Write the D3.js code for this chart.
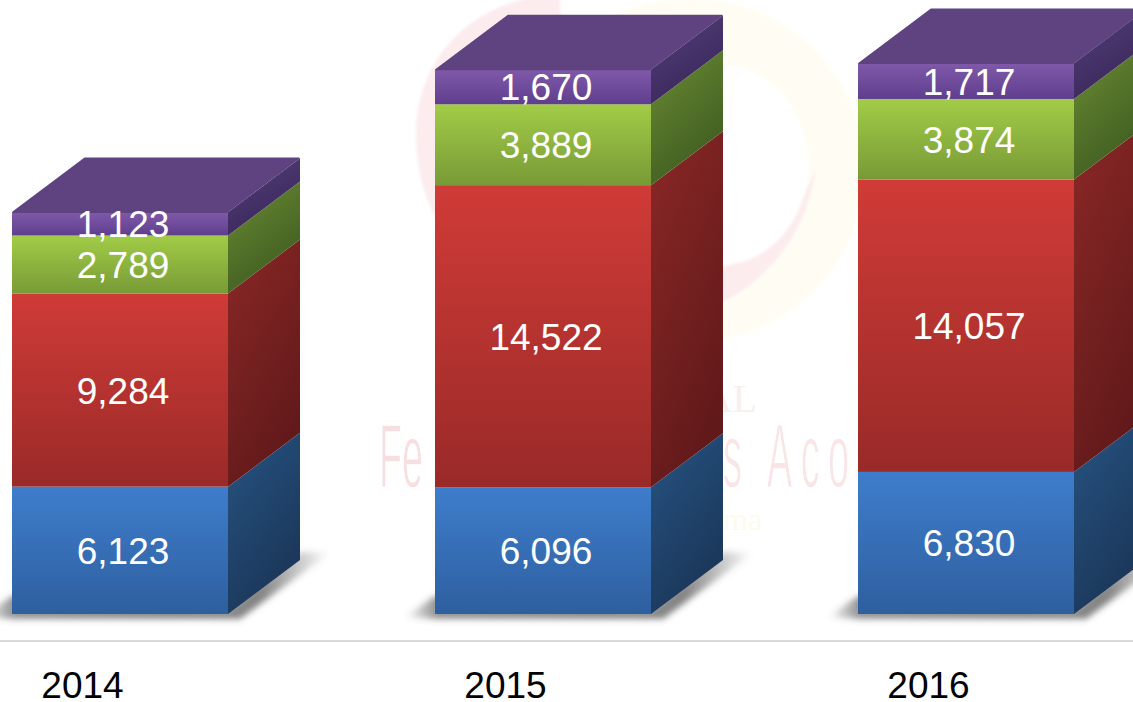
<!DOCTYPE html>
<html><head><meta charset="utf-8">
<script src="https://cdn.jsdelivr.net/npm/d3@7"></script>
<style>html,body{margin:0;padding:0;background:#fff;overflow:hidden}svg{display:block}text{font-family:"Liberation Sans",Arial,sans-serif}</style>
</head><body><svg id="c" width="1133" height="702"></svg>
<script>
const years = ["2014","2015","2016"];
const seriesNames = ["blue","red","green","purple"];
const blueValues = [6123,6096,6830];
const redValues = [9284,14522,14057];
const greenValues = [2789,3889,3874];
const purpleValues = [1123,1670,1717];
const valuesBySeries = {blue:blueValues,red:redValues,green:greenValues,purple:purpleValues};
const frontColors = {blue:["#3e7dcc","#2e5f9f"],red:["#d03b37","#992a28"],green:["#a2cc47","#789a36"],purple:["#8059a9","#5f3e8e"]};
const sideColors = {blue:["#265483","#1b3658"],red:["#8a2826","#62191a"],green:["#6b8c34","#3f5c20"],purple:["#54407a","#39275a"]};
const topColor = "#5f4380";

const W=1133,H=702,DX=72,DY=54;
const svg=d3.select("#c");
const defs=svg.append("defs");
const rows=years.map((y,i)=>{const r={year:y};seriesNames.forEach(s=>r[s]=valuesBySeries[s][i]);return r;});
const stacked=d3.stack().keys(seriesNames)(rows);
const x=d3.scaleBand().domain(years).range([12,1074]).paddingInner(207/423).paddingOuter(0);
const y=d3.scaleLinear().domain([0,30000]).range([614,-10]);

function grad(id,c,x2,y2){
  const g=defs.append("linearGradient").attr("id",id).attr("x1",0).attr("y1",0).attr("x2",x2).attr("y2",y2);
  g.append("stop").attr("offset",0).attr("stop-color",c[0]);
  g.append("stop").attr("offset",1).attr("stop-color",c[1]);
}
seriesNames.forEach(s=>{grad("f-"+s,frontColors[s],0,1);grad("s-"+s,sideColors[s],0.5,1);});
defs.append("filter").attr("id","blur").attr("x","-20%").attr("y","-40%").attr("width","140%").attr("height","180%")
  .append("feGaussianBlur").attr("stdDeviation",3.4);
defs.append("filter").attr("id","soft").append("feGaussianBlur").attr("stdDeviation",1.5);
const sg=defs.append("linearGradient").attr("id","shadow");
[[0,0],[.09,.6],[.8,.68],[1,0]].forEach(d=>sg.append("stop").attr("offset",d[0]).attr("stop-color","#4a4a4a").attr("stop-opacity",d[1]));

// faint watermark behind the chart
const wm=svg.append("g");
wm.append("ellipse").attr("cx",690).attr("cy",170).attr("rx",175).attr("ry",172).attr("fill","#fffdf3").attr("filter","url(#soft)");
wm.append("path").attr("d","M560 -6C470 -2 416 60 416 135C416 240 500 325 640 322C735 320 805 255 816 168C790 235 735 280 650 280C590 280 560 100 560 -6Z").attr("fill","#fcecee").attr("filter","url(#soft)");
wm.append("ellipse").attr("cx",720).attr("cy",165).attr("rx",88).attr("ry",100).attr("fill","#fff").attr("filter","url(#soft)");
const thin=(sel)=>sel.attr("stroke","#fff").attr("stroke-width",1.5);
thin(wm.append("text").attr("x",379).attr("y",487).attr("font-size",90).attr("fill","#f7dfe1").attr("transform","translate(379 0) scale(.42 1) translate(-379 0)")).text("Fe");
thin(wm.append("text").attr("x",723).attr("y",487).attr("font-size",90).attr("fill","#f9e4e6").style("letter-spacing","20px").attr("transform","translate(723 0) scale(.42 1) translate(-723 0)")).text("s Aco");
wm.append("text").attr("x",757).attr("y",412).attr("text-anchor","end").attr("font-size",40).attr("fill","#f9eeee").style("font-family","Liberation Serif").text("AL");
wm.append("text").attr("x",723).attr("y",530).attr("font-size",32).attr("fill","#fdfbec").style("font-family","Liberation Serif").text("ma");

// floor line
svg.append("line").attr("x1",0).attr("x2",W).attr("y1",641).attr("y2",641).attr("stroke","#d9d9d9").attr("stroke-width",2);

const line=d3.line();
// floor shadows
svg.append("g").selectAll("path").data(years).join("path")
 .attr("d",d=>{const a=x(d),b=a+x.bandwidth(),f=y(0);
   return line([[a-30,f+3],[a,f-18],[b,f-4],[b+DX,f-DY-8],[b+102,f-61],[b+DX+4,f-DY+12],[b+12,f+5],[a,f+5]])+"Z";})
 .attr("fill","url(#shadow)").attr("filter","url(#blur)");

// segments
const bars=svg.append("g");
const segs=stacked.flatMap(l=>l.map((d,i)=>({key:l.key,y0:d[0],y1:d[1],year:years[i],value:d[1]-d[0]})));
bars.selectAll("path.side").data(segs).join("path").attr("class","side")
 .attr("d",d=>{const b=x(d.year)+x.bandwidth();return line([[b,y(d.y0)],[b+DX,y(d.y0)-DY],[b+DX,y(d.y1)-DY],[b,y(d.y1)]])+"Z";})
 .attr("fill",d=>`url(#s-${d.key})`);
bars.selectAll("rect.front").data(segs).join("rect").attr("class","front")
 .attr("x",d=>x(d.year)).attr("width",x.bandwidth())
 .attr("y",d=>y(d.y1)).attr("height",d=>y(d.y0)-y(d.y1))
 .attr("fill",d=>`url(#f-${d.key})`);
// top faces
bars.selectAll("path.top").data(segs.filter(d=>d.key==="purple")).join("path").attr("class","top")
 .attr("d",d=>{const a=x(d.year),b=a+x.bandwidth(),t=y(d.y1);
   return line([[a+1,t],[a+DX+1,t-DY],[b+DX-1,t-DY],[b-1,t]])+"Z";})
 .attr("fill",topColor).attr("stroke",topColor).attr("stroke-width",1.5).attr("stroke-linejoin","round");

// value labels
const fmt=d3.format(",");
svg.append("g").selectAll("text").data(segs).join("text")
 .attr("x",d=>x(d.year)+x.bandwidth()/2+3)
 .attr("y",d=>(y(d.y0)+y(d.y1))/2+0.5)
 .attr("dy","0.35em").attr("text-anchor","middle").attr("font-size",37).attr("fill","#fff")
 .text(d=>fmt(d.value));

// category axis
const ax=svg.append("g").attr("transform","translate(-37.5,698)").call(d3.axisBottom(x).tickSize(0).tickPadding(0));
ax.select(".domain").remove();
ax.selectAll("text").attr("dy",0).attr("y",0).attr("font-size",37).attr("fill","#000").style("font-family",'"Liberation Sans",Arial,sans-serif');
</script></body></html>
